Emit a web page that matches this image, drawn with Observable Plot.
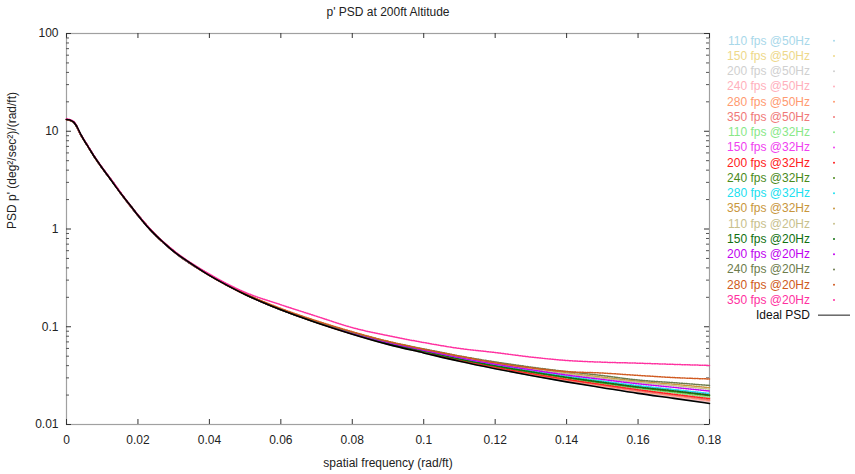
<!DOCTYPE html>
<html><head><meta charset="utf-8">
<script src="https://cdn.jsdelivr.net/npm/d3@7"></script>
<script src="https://cdn.jsdelivr.net/npm/@observablehq/plot@0.6"></script>
<style>
body{margin:0;background:#fff;}
#wrap{position:relative;width:855px;height:474px;font-family:"Liberation Sans",Arial,sans-serif;}
#wrap svg.leg{position:absolute;left:0;top:0;pointer-events:none;}
</style></head><body><div id="wrap"></div>
<script>
// ---- data ----
const title = "p' PSD at 200ft Altitude";
const xLabel = "spatial frequency (rad/ft)";
const yLabel = "PSD p' (deg²/sec²)/(rad/ft)";

const xTicks = [0, 0.02, 0.04, 0.06, 0.08, 0.1, 0.12, 0.14, 0.16, 0.18];
const yTicks = [0.01, 0.1, 1, 10, 100];
const yMinorTicks = [0.02,0.03,0.04,0.05,0.06,0.07,0.08,0.09, 0.2,0.3,0.4,0.5,0.6,0.7,0.8,0.9, 2,3,4,5,6,7,8,9, 20,30,40,50,60,70,80,90];

const idealFreq = [0,0.001,0.002,0.003,0.004,0.005,0.006,0.007,0.008,0.009,0.01,0.012,0.014,0.016,0.018,0.02,0.0225,0.025,0.0275,0.03,0.035,0.04,0.045,0.05,0.055,0.06,0.07,0.08,0.09,0.1,0.11,0.12,0.13,0.14,0.15,0.16,0.17,0.18];
const idealPSD  = [13.2,13.0,12.4,11.0,9.3,8.0,7.0,6.1,5.35,4.75,4.2,3.35,2.65,2.12,1.72,1.38,1.07,0.86,0.71,0.59,0.44,0.335,0.265,0.214,0.177,0.149,0.110,0.084,0.066,0.054,0.0443,0.0372,0.0317,0.0273,0.0238,0.0208,0.0185,0.0164];

const freq = [0,0.002,0.004,0.006,0.008,0.01,0.013,0.016,0.02,0.025,0.03,0.04,0.05,0.06,0.07,0.08,0.09,0.1,0.11,0.12,0.13,0.14,0.15,0.16,0.17,0.18];

const seriesNames = ["110 fps @50Hz","150 fps @50Hz","200 fps @50Hz","240 fps @50Hz","280 fps @50Hz","350 fps @50Hz",
  "110 fps @32Hz","150 fps @32Hz","200 fps @32Hz","240 fps @32Hz","280 fps @32Hz","350 fps @32Hz",
  "110 fps @20Hz","150 fps @20Hz","200 fps @20Hz","240 fps @20Hz","280 fps @20Hz","350 fps @20Hz"];
const seriesColors = ["#a8d8ea","#eed88a","#d0d0d0","#ffb0bc","#ff9a70","#f07878",
  "#88e888","#f040f0","#ff2020","#4a8a1a","#20e0f0","#c8963c",
  "#c8c08c","#107010","#c000f0","#6c7c4c","#d05a20","#ff30a0"];

const s110_50 = [13.2,12.4,9.2,7.0,5.35,4.2,3.0,2.12,1.38,0.86,0.59,0.336,0.214,0.1492,0.1101,0.0841,0.0661,0.0541,0.0444,0.0373,0.0318,0.0274,0.0240,0.0210,0.0187,0.0166];
const s150_50 = [13.2,12.4,9.2,7.02,5.35,4.21,3.0,2.12,1.38,0.862,0.59,0.335,0.214,0.1491,0.1102,0.0842,0.0662,0.0542,0.0445,0.0375,0.0320,0.0276,0.0241,0.0212,0.0188,0.0167];
const s200_50 = [13.2,12.4,9.2,7.0,5.34,4.2,3.0,2.13,1.38,0.86,0.591,0.336,0.215,0.1493,0.1102,0.0843,0.0663,0.0543,0.0447,0.0376,0.0321,0.0278,0.0242,0.0213,0.0190,0.0169];
const s240_50 = [13.3,12.5,9.2,7.0,5.36,4.2,3.01,2.12,1.38,0.861,0.592,0.337,0.215,0.1494,0.1104,0.0844,0.0665,0.0546,0.0449,0.0379,0.0324,0.0281,0.0245,0.0217,0.0193,0.0172];
const s280_50 = [13.2,12.4,9.2,7.0,5.35,4.21,3.0,2.12,1.38,0.86,0.59,0.336,0.215,0.1494,0.1105,0.0846,0.0667,0.0548,0.0452,0.0381,0.0327,0.0283,0.0249,0.0219,0.0197,0.0176];
const s350_50 = [13.2,12.4,9.2,7.0,5.35,4.2,3.0,2.12,1.38,0.861,0.591,0.337,0.215,0.1495,0.1106,0.0847,0.0669,0.0550,0.0454,0.0384,0.0330,0.0287,0.0252,0.0222,0.0200,0.0179];
const s110_32 = [13.2,12.4,9.2,7.0,5.35,4.2,3.0,2.12,1.38,0.861,0.591,0.337,0.215,0.1497,0.1109,0.0852,0.0675,0.0557,0.0462,0.0392,0.0339,0.0296,0.0262,0.0233,0.0211,0.0190];
const s150_32 = [13.2,12.4,9.2,7.0,5.35,4.2,3.0,2.12,1.38,0.862,0.592,0.337,0.215,0.1499,0.1113,0.0858,0.0682,0.0566,0.0472,0.0403,0.0351,0.0309,0.0276,0.0247,0.0226,0.0205];
const s200_32 = [13.1,12.3,9.1,6.95,5.3,4.17,2.98,2.1,1.37,0.855,0.587,0.334,0.213,0.1494,0.1106,0.0848,0.0671,0.0552,0.0457,0.0387,0.0333,0.0290,0.0256,0.0227,0.0204,0.0184];
const s240_32 = [13.2,12.4,9.2,7.0,5.35,4.2,3.0,2.12,1.38,0.861,0.591,0.337,0.215,0.1496,0.1111,0.0854,0.0678,0.0561,0.0466,0.0397,0.0344,0.0302,0.0267,0.0239,0.0217,0.0197];
const s280_32 = [13.2,12.4,9.2,7.0,5.35,4.2,3.0,2.12,1.38,0.862,0.592,0.338,0.216,0.1499,0.1115,0.0860,0.0684,0.0568,0.0474,0.0406,0.0353,0.0312,0.0278,0.0250,0.0228,0.0208];
const s350_32 = [13.2,12.4,9.2,7.0,5.35,4.21,3.0,2.13,1.38,0.863,0.593,0.339,0.217,0.1505,0.1123,0.0872,0.0699,0.0586,0.0494,0.0427,0.0377,0.0337,0.0305,0.0277,0.0258,0.0238];
const s110_20 = [13.2,12.4,9.2,7.0,5.35,4.2,3.0,2.12,1.38,0.862,0.593,0.338,0.217,0.1502,0.1121,0.0868,0.0694,0.0581,0.0488,0.0421,0.0370,0.0330,0.0298,0.0270,0.0250,0.0230];
const s150_20 = [13.2,12.4,9.2,7.0,5.35,4.2,3.0,2.12,1.38,0.861,0.591,0.337,0.215,0.1497,0.1112,0.0856,0.0680,0.0563,0.0468,0.0399,0.0347,0.0304,0.0271,0.0242,0.0221,0.0200];
const s200_20 = [13.2,12.4,9.2,7.0,5.35,4.2,3.0,2.12,1.38,0.862,0.592,0.338,0.216,0.1501,0.1118,0.0864,0.0690,0.0575,0.0482,0.0414,0.0363,0.0321,0.0289,0.0261,0.0240,0.0220];
const s240_20 = [13.2,12.4,9.2,7.0,5.35,4.21,3.0,2.13,1.39,0.865,0.595,0.34,0.218,0.1507,0.1128,0.0877,0.0706,0.0594,0.0503,0.0437,0.0387,0.0348,0.0317,0.0285,0.0268,0.0251];
const s280_20 = [13.2,12.4,9.2,7.0,5.35,4.21,3.0,2.13,1.39,0.868,0.598,0.342,0.219,0.154,0.115,0.089,0.071,0.059,0.050,0.0428,0.038,0.0348,0.0336,0.0318,0.0302,0.0292];
const s350_20 = [13.4,12.6,9.3,7.1,5.42,4.26,3.04,2.15,1.4,0.872,0.603,0.346,0.225,0.168,0.128,0.098,0.081,0.069,0.060,0.0545,0.049,0.0452,0.0434,0.0424,0.0412,0.0402];

const seriesValues = [s110_50,s150_50,s200_50,s240_50,s280_50,s350_50,s110_32,s150_32,s200_32,s240_32,s280_32,s350_32,s110_20,s150_20,s200_20,s240_20,s280_20,s350_20];
const idealName = "Ideal PSD";

// ---- build ----
const rows = seriesNames.flatMap((name, i) => freq.map((f, j) => ({name, f, v: seriesValues[i][j]})));
const ideal = idealFreq.map((f, i) => ({f, v: idealPSD[i]}));

const W = 855, H = 474, mL = 66, mR = 146, mT = 33, mB = 50;
const pw = W - mL - mR, ph = H - mT - mB;
const font = '"Liberation Sans", Arial, Helvetica, sans-serif';

const chart = Plot.plot({
  width: W, height: H,
  marginLeft: mL, marginRight: mR, marginTop: mT, marginBottom: mB,
  style: {fontFamily: font, fontSize: "12px", color: "#222", background: "#fff", overflow: "visible"},
  x: {domain: [0, 0.18]},
  y: {type: "log", domain: [0.01, 100]},
  color: {domain: seriesNames, range: seriesColors},
  marks: [
    Plot.frame({stroke: "#a0a0a0", strokeWidth: 1.2}),
    Plot.tickX(xTicks, {x: d => d, insetTop: ph - 5, stroke: "#333"}),
    Plot.tickX(xTicks, {x: d => d, insetBottom: ph - 5, stroke: "#333"}),
    Plot.tickY(yTicks, {y: d => d, insetRight: pw - 5, stroke: "#333"}),
    Plot.tickY(yTicks, {y: d => d, insetLeft: pw - 5, stroke: "#333"}),
    Plot.tickY(yMinorTicks, {y: d => d, insetRight: pw - 3, stroke: "#555"}),
    Plot.tickY(yMinorTicks, {y: d => d, insetLeft: pw - 3, stroke: "#555"}),
    Plot.axisX(xTicks, {tickSize: 0, tickPadding: 11, tickFormat: d => String(d), label: null, fill: "#222"}),
    Plot.axisY(yTicks, {tickSize: 0, tickPadding: 8, tickFormat: d => String(d), label: null, fill: "#222"}),
    Plot.line(rows, {x: "f", y: "v", z: "name", stroke: "name", strokeWidth: 1.5, strokeDasharray: "1.3 1.2", curve: "monotone-x"}),
    Plot.line(ideal, {x: "f", y: "v", stroke: "#000", strokeWidth: 1.6, curve: "monotone-x"}),
    Plot.text([title], {text: d => d, frameAnchor: "top", lineAnchor: "middle", dy: -21, fill: "#222", fontSize: 12}),
    Plot.text([xLabel], {text: d => d, frameAnchor: "bottom", lineAnchor: "middle", dy: 39, fill: "#222", fontSize: 12}),
    Plot.text([yLabel], {text: d => d, frameAnchor: "left", dx: -54, rotate: -90, fill: "#222", fontSize: 12})
  ]
});

const wrap = document.getElementById("wrap");
wrap.appendChild(chart);

// ---- legend (layout overlay) ----
const leg = d3.select(wrap).append("svg").attr("class", "leg").attr("width", W).attr("height", H)
  .style("font-family", font).style("font-size", "12px");
const rowY = i => 40.7 + 15.25 * i;
seriesNames.forEach((name, i) => {
  leg.append("text").attr("x", 810).attr("y", rowY(i)).attr("text-anchor", "end")
    .attr("dominant-baseline", "central").attr("fill", seriesColors[i]).text(name);
  leg.append("circle").attr("cx", 834).attr("cy", rowY(i)).attr("r", 1).attr("fill", seriesColors[i]);
});
const li = seriesNames.length;
leg.append("text").attr("x", 810).attr("y", rowY(li)).attr("text-anchor", "end")
  .attr("dominant-baseline", "central").attr("fill", "#111").text(idealName);
leg.append("line").attr("x1", 818).attr("x2", 850).attr("y1", rowY(li)).attr("y2", rowY(li))
  .attr("stroke", "#666").attr("stroke-width", 1.5);
</script>
</body></html>
